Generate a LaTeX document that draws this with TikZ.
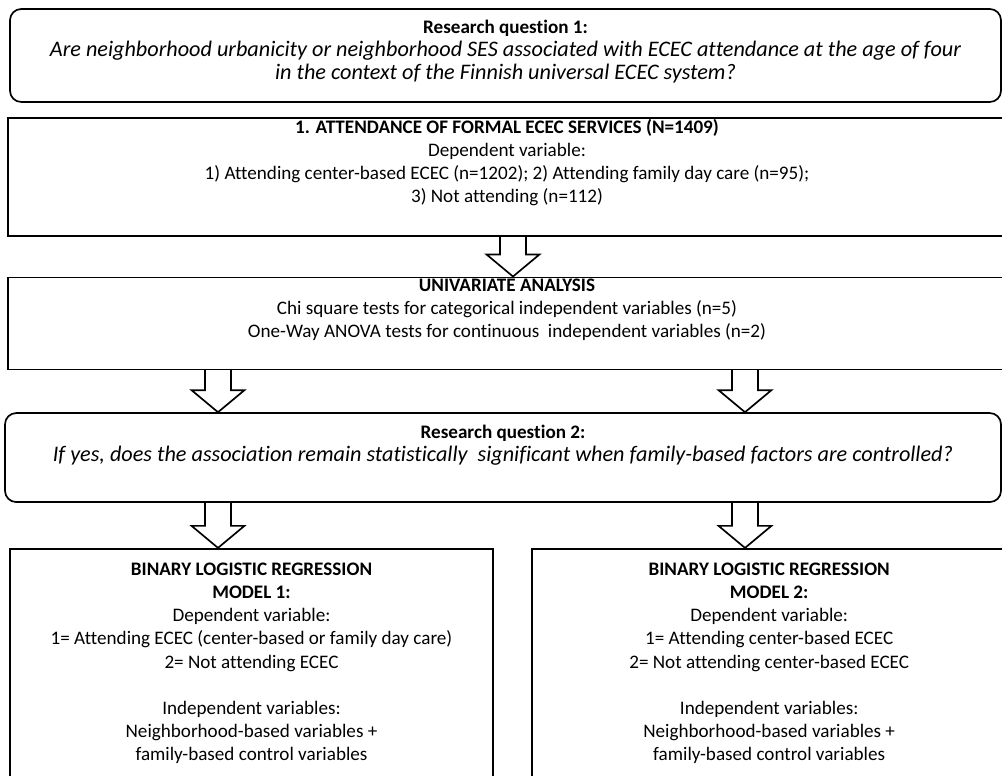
\documentclass[tikz,border=0pt]{standalone}
\usepackage{fontspec}
\setmainfont{Carlito}[Ligatures=NoCommon]
\usetikzlibrary{positioning, calc}

\newcommand\boxfont{\fontsize{13.6}{16.4}\selectfont}
\newcommand\askfont{\fontsize{15.8}{17.1}\selectfont\itshape}
\newcommand\blockarrow[3]{% x position, upper node, lower node
  \draw[blockarr] let \p1=(#1), \p2=(#2.south), \p3=(#3.north) in
    (\x1-0.325cm,\y2) -- (\x1-0.325cm,\y3+0.55cm) -- (\x1-0.66cm,\y3+0.55cm)
    -- (\x1,\y3) -- (\x1+0.66cm,\y3+0.55cm) -- (\x1+0.325cm,\y3+0.55cm)
    -- (\x1+0.325cm,\y2);}

\begin{document}
\begin{tikzpicture}[
  question/.style={rectangle, rounded corners=8pt, draw, line width=1.2pt,
                   align=center, inner sep=0pt, font=\boxfont},
  stagebox/.style={rectangle, draw, line width=1.2pt,
                   align=center, inner sep=0pt, font=\boxfont},
  blockarr/.style={draw, line width=1.2pt, line join=miter},
]
  \useasboundingbox (0,0) rectangle (25.05,19.4);
  \clip (0,0) rectangle (25.05,19.4);

  \node[question, minimum width=24.775cm, minimum height=2.325cm, text depth=0.3cm] (rq1) at (12.6375,18.0125)
    {\textbf{Research question 1:}\\
     {\askfont Are neighborhood urbanicity or neighborhood SES associated with ECEC attendance at the age of four}\\
     {\askfont in the context of the Finnish universal ECEC system?}};

  \node[stagebox, minimum width=24.95cm, minimum height=2.95cm, text depth=0.8cm,
        below=0.35cm of rq1.south west, anchor=north west, xshift=-0.05cm] (attend)
    {\textbf{1. ATTENDANCE OF FORMAL ECEC SERVICES (N=1409)}\\
     Dependent variable:\\
     1) Attending center-based ECEC (n=1202); 2) Attending family day care (n=95);\\
     3) Not attending (n=112)};

  \node[stagebox, minimum width=24.95cm, minimum height=2.3cm, text depth=0.75cm,
        below=1.0cm of attend] (univar)
    {\textbf{UNIVARIATE ANALYSIS}\\
     Chi square tests for categorical independent variables (n=5)\\
     One-Way ANOVA tests for continuous\ \ independent variables (n=2)};

  \node[question, minimum width=24.9cm, minimum height=2.225cm, text depth=0.7cm,
        below=1.05cm of univar.south west, anchor=north west, xshift=-0.075cm] (rq2)
    {\textbf{Research question 2:}\\
     {\askfont If yes, does the association remain statistically\ \ significant when family-based factors are controlled?}};

  % regression models
  \node[stagebox, minimum width=12.075cm, minimum height=5.95cm, text depth=0.3cm,
        below=1.125cm of rq2.south west, anchor=north west, xshift=0.125cm] (model1)
    {\textbf{BINARY LOGISTIC REGRESSION}\\
     \textbf{MODEL 1:}\\
     Dependent variable:\\
     1= Attending ECEC (center-based or family day care)\\
     2= Not attending ECEC\\[0.575cm]
     Independent variables:\\
     Neighborhood-based variables +\\
     family-based control variables};
  \node[stagebox, minimum width=11.875cm, minimum height=5.95cm, text depth=0.3cm,
        right=0.925cm of model1] (model2)
    {\textbf{BINARY LOGISTIC REGRESSION}\\
     \textbf{MODEL 2:}\\
     Dependent variable:\\
     1= Attending center-based ECEC\\
     2= Not attending center-based ECEC\\[0.575cm]
     Independent variables:\\
     Neighborhood-based variables +\\
     family-based control variables};

  % block arrows
  \coordinate (xmid) at (12.825,0);
  \coordinate (xleft) at (5.45,0);
  \coordinate (xright) at (18.625,0);
  \blockarrow{xmid}{attend}{univar}
  \blockarrow{xleft}{univar}{rq2}
  \blockarrow{xright}{univar}{rq2}
  \blockarrow{xleft}{rq2}{model1}
  \blockarrow{xright}{rq2}{model1}
\end{tikzpicture}
\end{document}
